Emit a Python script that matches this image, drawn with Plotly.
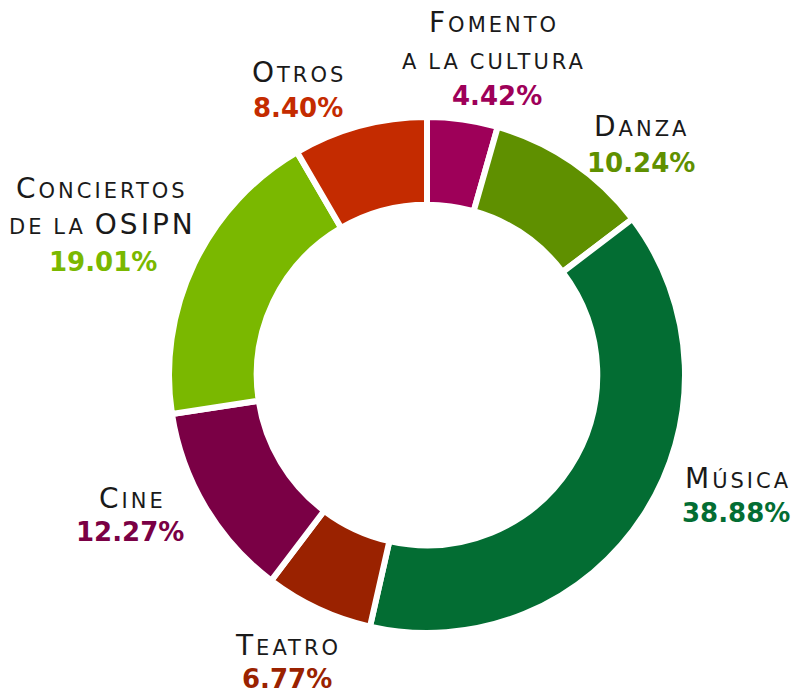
import plotly.graph_objects as go

categories = ["Fomento a la cultura", "Danza", "Música", "Teatro", "Cine",
              "Conciertos de la OSIPN", "Otros"]
values = [4.42, 10.24, 38.88, 6.77, 12.27, 19.01, 8.40]
colors = ["#9E0059", "#5F9000", "#036D33", "#9A2200", "#7A0045", "#7AB800", "#C42B00"]

W, H = 795, 693
FONT = "DejaVu Sans"
BIG, SMALL, PCT = 28, 21, 26
LS = "3px"


def sc(word):
    out = []
    for w in word.split(" "):
        if w == "OSIPN":
            out.append(f"<span style='letter-spacing:{LS}'>OSIPN</span>")
        elif w[0].isupper():
            out.append(f"<span style='letter-spacing:{LS}'>" + w[0] + "</span>"
                       + f"<span style='font-size:{SMALL}px;letter-spacing:{LS}'>" + w[1:].upper() + "</span>")
        else:
            out.append(f"<span style='font-size:{SMALL}px;letter-spacing:{LS}'>" + w.upper() + "</span>")
    return " ".join(out)


label_lines = {
    "Fomento a la cultura": (["Fomento", "a la cultura"], 494, [22, 59], 497, 96),
    "Danza": (["Danza"], 641, [127], 641, 163),
    "Música": (["Música"], 738, [478], 736, 513),
    "Teatro": (["Teatro"], 288, [645], 287, 679),
    "Cine": (["Cine"], 132, [498], 130, 532),
    "Conciertos de la OSIPN": (["Conciertos", "de la OSIPN"], 102, [188, 224], 103, 262),
    "Otros": (["Otros"], 299, [73], 298, 108),
}

fig = go.Figure()
fig.add_trace(go.Pie(
    labels=categories,
    values=values,
    sort=False,
    direction="clockwise",
    rotation=0,
    hole=0.66,
    textinfo="none",
    hoverinfo="label+percent",
    marker=dict(colors=colors, line=dict(color="white", width=6)),
    domain=dict(x=[(427 - 258) / W, (427 + 258) / W], y=[(318 - 258) / H, (318 + 258) / H]),
    showlegend=False,
))

annotations = []
for cat, val, col in zip(categories, values, colors):
    lines, lx, lys, px, py = label_lines[cat]
    for line, ly in zip(lines, lys):
        annotations.append(dict(
            x=lx / W, y=1 - ly / H, xref="paper", yref="paper",
            text=sc(line), showarrow=False, xanchor="center", yanchor="middle",
            font=dict(family=FONT, size=BIG, color="#1a1a1a"),
        ))
    annotations.append(dict(
        x=px / W, y=1 - py / H, xref="paper", yref="paper",
        text=f"<b>{val:.2f}%</b>", showarrow=False, xanchor="center", yanchor="middle",
        font=dict(family=FONT, size=PCT, color=col),
    ))

fig.update_layout(
    width=W, height=H,
    margin=dict(l=0, r=0, t=0, b=0),
    paper_bgcolor="white",
    plot_bgcolor="white",
    annotations=annotations,
)

fig.write_html("out.html", config={"displayModeBar": False},
               post_script="document.body.style.margin='0';document.body.style.overflow='hidden';")
